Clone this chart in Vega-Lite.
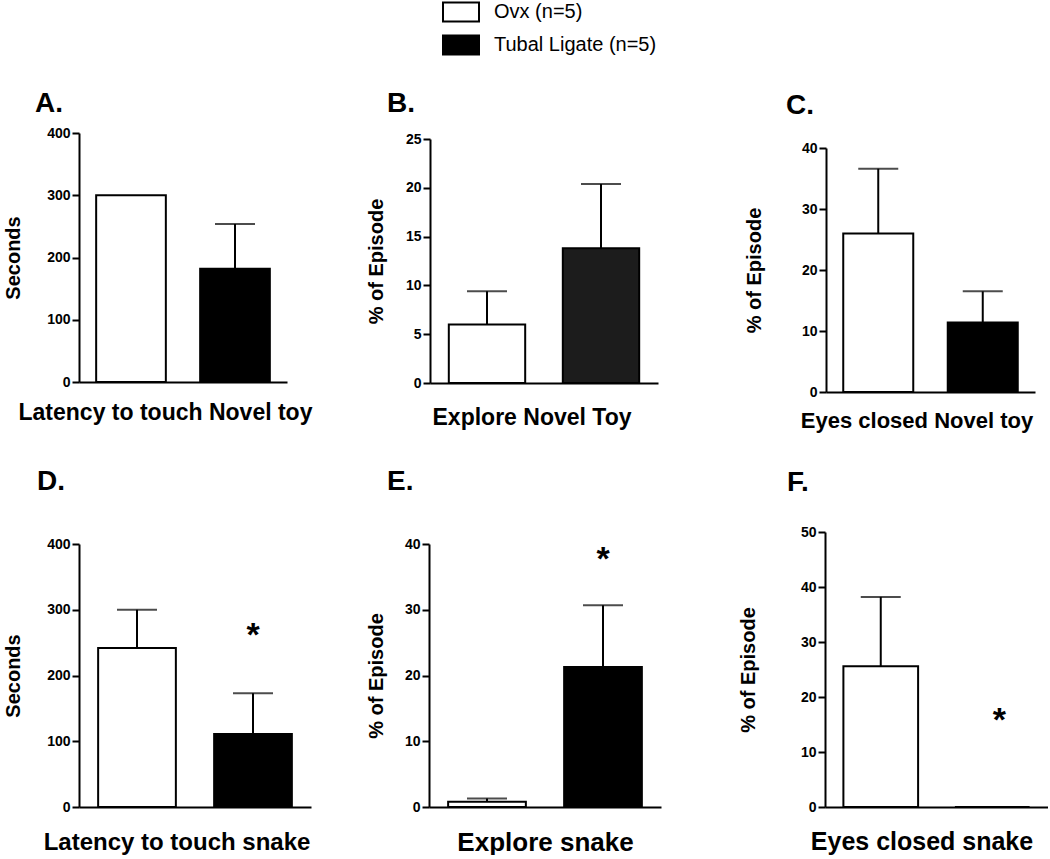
{
  "$schema": "https://vega.github.io/schema/vega-lite/v6.json",
  "padding": {"left": 3, "top": 2, "right": 0, "bottom": 0},
  "datasets": {
    "bars": [
      {"panel": "A", "group": "Ovx (n=5)", "mean": 300, "upper": null, "star": null},
      {"panel": "A", "group": "Tubal Ligate (n=5)", "mean": 182, "upper": 254, "star": null},
      {"panel": "B", "group": "Ovx (n=5)", "mean": 6.0, "upper": 9.4, "star": null},
      {"panel": "B", "group": "Tubal Ligate (n=5)", "mean": 13.8, "upper": 20.4, "star": null},
      {"panel": "C", "group": "Ovx (n=5)", "mean": 26.0, "upper": 36.6, "star": null},
      {"panel": "C", "group": "Tubal Ligate (n=5)", "mean": 11.4, "upper": 16.5, "star": null},
      {"panel": "D", "group": "Ovx (n=5)", "mean": 242, "upper": 300, "star": null},
      {"panel": "D", "group": "Tubal Ligate (n=5)", "mean": 111, "upper": 173, "star": 274},
      {"panel": "E", "group": "Ovx (n=5)", "mean": 0.8, "upper": 1.3, "star": null},
      {"panel": "E", "group": "Tubal Ligate (n=5)", "mean": 21.3, "upper": 30.7, "star": 38.9},
      {"panel": "F", "group": "Ovx (n=5)", "mean": 25.6, "upper": 38.2, "star": null},
      {"panel": "F", "group": "Tubal Ligate (n=5)", "mean": 0, "upper": null, "star": 17.3}
    ]
  },
  "vconcat": [
    {
      "hconcat": [
        {
          "hconcat": [
            {
              "width": 208, "height": 249,
              "title": {"text": "A.", "anchor": "start", "frame": "group", "dx": -44, "dy": 2, "offset": -12, "baseline": "alphabetic", "fontSize": 28, "fontWeight": "bold", "font": "Liberation Sans", "color": "black"},
              "data": {"name": "bars"},
              "transform": [{"filter": "datum.panel === 'A'"}],
              "encoding": {
                "x": {"field": "group", "type": "nominal", "scale": {"domain": ["Ovx (n=5)", "Tubal Ligate (n=5)"], "paddingInner": 0.33, "paddingOuter": 0.165},
                  "axis": {"title": "Latency to touch Novel toy", "titleX": 86, "titlePadding": 19, "titleFontSize": 23}}
              },
              "layer": [
                {"mark": {"type": "bar", "stroke": "black", "strokeWidth": 2},
                 "encoding": {
                   "y": {"field": "mean", "type": "quantitative", "scale": {"domain": [0, 400], "nice": false}, "axis": {"values": [0, 100, 200, 300, 400], "title": "Seconds", "titlePadding": 21}},
                   "fill": {"field": "group", "type": "nominal", "scale": {"domain": ["Ovx (n=5)", "Tubal Ligate (n=5)"], "range": ["white", "black"]},
                     "legend": {"orient": "none", "legendX": 372, "legendY": -131, "title": null, "symbolType": "M-2,-1.06H2V1.06H-2Z", "symbolSize": 324, "symbolStrokeColor": "black", "symbolStrokeWidth": 2, "symbolOpacity": 1, "labelFontSize": 20, "labelFont": "Liberation Sans", "labelColor": "black", "labelLimit": 0, "rowPadding": 5, "labelOffset": 23}}
                 }},
                {"mark": {"type": "rule", "strokeWidth": 2, "color": "black"},
                 "encoding": {"y": {"field": "mean", "type": "quantitative", "axis": {"values": [0, 100, 200, 300, 400], "title": "Seconds", "titlePadding": 21}}, "y2": {"field": "upper"}}},
                {"mark": {"type": "tick", "thickness": 2, "size": 40, "color": "black", "orient": "horizontal"},
                 "encoding": {"y": {"field": "upper", "type": "quantitative", "axis": {"values": [0, 100, 200, 300, 400], "title": "Seconds", "titlePadding": 21}}}}
              ]
            },
            {
              "width": 228, "height": 250,
              "title": {"text": "B.", "anchor": "start", "frame": "group", "dx": -43, "dy": -4, "offset": -12, "baseline": "alphabetic", "fontSize": 28, "fontWeight": "bold", "font": "Liberation Sans", "color": "black"},
              "data": {"name": "bars"},
              "transform": [{"filter": "datum.panel === 'B'"}],
              "encoding": {
                "x": {"field": "group", "type": "nominal", "scale": {"domain": ["Ovx (n=5)", "Tubal Ligate (n=5)"], "paddingInner": 0.33, "paddingOuter": 0.165},
                  "axis": {"title": "Explore Novel Toy", "titleX": 101.5, "titlePadding": 23, "titleFontSize": 23}}
              },
              "layer": [
                {"mark": {"type": "bar", "stroke": "black", "strokeWidth": 2},
                 "encoding": {
                   "y": {"field": "mean", "type": "quantitative", "scale": {"domain": [0, 25], "nice": false, "range": [250, 6]}, "axis": {"values": [0, 5, 10, 15, 20, 25], "title": "% of Episode", "titlePadding": 9}},
                   "fill": {"condition": {"test": "datum.group === 'Tubal Ligate (n=5)'", "value": "#1c1c1c"}, "field": "group", "type": "nominal", "scale": {"domain": ["Ovx (n=5)", "Tubal Ligate (n=5)"], "range": ["white", "black"]},
                     "legend": {"orient": "none", "legendX": 372, "legendY": -131, "title": null, "symbolType": "M-2,-1.06H2V1.06H-2Z", "symbolSize": 324, "symbolStrokeColor": "black", "symbolStrokeWidth": 2, "symbolOpacity": 1, "labelFontSize": 20, "labelFont": "Liberation Sans", "labelColor": "black", "labelLimit": 0, "rowPadding": 5, "labelOffset": 23}}
                 }},
                {"mark": {"type": "rule", "strokeWidth": 2, "color": "black"},
                 "encoding": {"y": {"field": "mean", "type": "quantitative", "axis": {"values": [0, 5, 10, 15, 20, 25], "title": "% of Episode", "titlePadding": 9}}, "y2": {"field": "upper"}}},
                {"mark": {"type": "tick", "thickness": 2, "size": 40, "color": "black", "orient": "horizontal"},
                 "encoding": {"y": {"field": "upper", "type": "quantitative", "axis": {"values": [0, 5, 10, 15, 20, 25], "title": "% of Episode", "titlePadding": 9}}}}
              ]
            }
          ],
          "spacing": 54,
          "align": "none"
        },
        {
          "width": 209, "height": 259,
          "title": {"text": "C.", "anchor": "start", "frame": "group", "dx": -40, "dy": -3, "offset": -12, "baseline": "alphabetic", "fontSize": 28, "fontWeight": "bold", "font": "Liberation Sans", "color": "black"},
          "data": {"name": "bars"},
          "transform": [{"filter": "datum.panel === 'C'"}],
          "encoding": {
            "x": {"field": "group", "type": "nominal", "scale": {"domain": ["Ovx (n=5)", "Tubal Ligate (n=5)"], "paddingInner": 0.33, "paddingOuter": 0.165},
              "axis": {"title": "Eyes closed Novel toy", "titleX": 90.5, "titlePadding": 18, "titleFontSize": 22}}
          },
          "layer": [
            {"mark": {"type": "bar", "stroke": "black", "strokeWidth": 2},
             "encoding": {
               "y": {"field": "mean", "type": "quantitative", "scale": {"domain": [0, 40], "nice": false, "range": [259, 15]}, "axis": {"values": [0, 10, 20, 30, 40], "title": "% of Episode", "titlePadding": 27}},
               "fill": {"field": "group", "type": "nominal", "scale": {"domain": ["Ovx (n=5)", "Tubal Ligate (n=5)"], "range": ["white", "black"]},
                 "legend": {"orient": "none", "legendX": 372, "legendY": -131, "title": null, "symbolType": "M-2,-1.06H2V1.06H-2Z", "symbolSize": 324, "symbolStrokeColor": "black", "symbolStrokeWidth": 2, "symbolOpacity": 1, "labelFontSize": 20, "labelFont": "Liberation Sans", "labelColor": "black", "labelLimit": 0, "rowPadding": 5, "labelOffset": 23}}
             }},
            {"mark": {"type": "rule", "strokeWidth": 2, "color": "black"},
             "encoding": {"y": {"field": "mean", "type": "quantitative", "axis": {"values": [0, 10, 20, 30, 40], "title": "% of Episode", "titlePadding": 27}}, "y2": {"field": "upper"}}},
            {"mark": {"type": "tick", "thickness": 2, "size": 40, "color": "black", "orient": "horizontal"},
             "encoding": {"y": {"field": "upper", "type": "quantitative", "axis": {"values": [0, 10, 20, 30, 40], "title": "% of Episode", "titlePadding": 27}}}}
          ]
        }
      ],
      "spacing": 86,
      "align": "none"
    },
    {
      "hconcat": [
        {
          "hconcat": [
            {
              "width": 232, "height": 275,
              "title": {"text": "D.", "anchor": "start", "frame": "group", "dx": -42, "dy": -3, "offset": 11, "baseline": "alphabetic", "fontSize": 28, "fontWeight": "bold", "font": "Liberation Sans", "color": "black"},
              "data": {"name": "bars"},
              "transform": [{"filter": "datum.panel === 'D'"}],
              "encoding": {
                "x": {"field": "group", "type": "nominal", "scale": {"domain": ["Ovx (n=5)", "Tubal Ligate (n=5)"], "paddingInner": 0.33, "paddingOuter": 0.165},
                  "axis": {"title": "Latency to touch snake", "titleX": 97.5, "titlePadding": 23, "titleFontSize": 24}}
              },
              "layer": [
                {"mark": {"type": "bar", "stroke": "black", "strokeWidth": 2},
                 "encoding": {
                   "y": {"field": "mean", "type": "quantitative", "scale": {"domain": [0, 400], "nice": false, "range": [275, 12]}, "axis": {"values": [0, 100, 200, 300, 400], "title": "Seconds", "titlePadding": 21}},
                   "fill": {"field": "group", "type": "nominal", "scale": {"domain": ["Ovx (n=5)", "Tubal Ligate (n=5)"], "range": ["white", "black"]},
                     "legend": {"orient": "none", "legendX": 372, "legendY": -131, "title": null, "symbolType": "M-2,-1.06H2V1.06H-2Z", "symbolSize": 324, "symbolStrokeColor": "black", "symbolStrokeWidth": 2, "symbolOpacity": 1, "labelFontSize": 20, "labelFont": "Liberation Sans", "labelColor": "black", "labelLimit": 0, "rowPadding": 5, "labelOffset": 23}}
                 }},
                {"mark": {"type": "rule", "strokeWidth": 2, "color": "black"},
                 "encoding": {"y": {"field": "mean", "type": "quantitative", "axis": {"values": [0, 100, 200, 300, 400], "title": "Seconds", "titlePadding": 21}}, "y2": {"field": "upper"}}},
                {"mark": {"type": "tick", "thickness": 2, "size": 40, "color": "black", "orient": "horizontal"},
                 "encoding": {"y": {"field": "upper", "type": "quantitative", "axis": {"values": [0, 100, 200, 300, 400], "title": "Seconds", "titlePadding": 21}}}},
                {"transform": [{"filter": "datum.star != null"}],
                 "mark": {"type": "text", "text": "*", "fontSize": 34, "fontWeight": "bold", "font": "Liberation Sans", "color": "black", "baseline": "middle", "dy": 9},
                 "encoding": {"y": {"field": "star", "type": "quantitative", "axis": {"values": [0, 100, 200, 300, 400], "title": "Seconds", "titlePadding": 21}}}}
              ]
            },
            {
              "width": 232, "height": 275,
              "title": {"text": "E.", "anchor": "start", "frame": "group", "dx": -42, "dy": -3, "offset": 11, "baseline": "alphabetic", "fontSize": 28, "fontWeight": "bold", "font": "Liberation Sans", "color": "black"},
              "data": {"name": "bars"},
              "transform": [{"filter": "datum.panel === 'E'"}],
              "encoding": {
                "x": {"field": "group", "type": "nominal", "scale": {"domain": ["Ovx (n=5)", "Tubal Ligate (n=5)"], "paddingInner": 0.33, "paddingOuter": 0.165},
                  "axis": {"title": "Explore snake", "titleX": 116, "titlePadding": 22, "titleFontSize": 26}}
              },
              "layer": [
                {"mark": {"type": "bar", "stroke": "black", "strokeWidth": 2},
                 "encoding": {
                   "y": {"field": "mean", "type": "quantitative", "scale": {"domain": [0, 40], "nice": false, "range": [275, 12]}, "axis": {"values": [0, 10, 20, 30, 40], "title": "% of Episode", "titlePadding": 8}},
                   "fill": {"field": "group", "type": "nominal", "scale": {"domain": ["Ovx (n=5)", "Tubal Ligate (n=5)"], "range": ["white", "black"]},
                     "legend": {"orient": "none", "legendX": 372, "legendY": -131, "title": null, "symbolType": "M-2,-1.06H2V1.06H-2Z", "symbolSize": 324, "symbolStrokeColor": "black", "symbolStrokeWidth": 2, "symbolOpacity": 1, "labelFontSize": 20, "labelFont": "Liberation Sans", "labelColor": "black", "labelLimit": 0, "rowPadding": 5, "labelOffset": 23}}
                 }},
                {"mark": {"type": "rule", "strokeWidth": 2, "color": "black"},
                 "encoding": {"y": {"field": "mean", "type": "quantitative", "axis": {"values": [0, 10, 20, 30, 40], "title": "% of Episode", "titlePadding": 8}}, "y2": {"field": "upper"}}},
                {"mark": {"type": "tick", "thickness": 2, "size": 40, "color": "black", "orient": "horizontal"},
                 "encoding": {"y": {"field": "upper", "type": "quantitative", "axis": {"values": [0, 10, 20, 30, 40], "title": "% of Episode", "titlePadding": 8}}}},
                {"transform": [{"filter": "datum.star != null"}],
                 "mark": {"type": "text", "text": "*", "fontSize": 34, "fontWeight": "bold", "font": "Liberation Sans", "color": "black", "baseline": "middle", "dy": 9},
                 "encoding": {"y": {"field": "star", "type": "quantitative", "axis": {"values": [0, 10, 20, 30, 40], "title": "% of Episode", "titlePadding": 8}}}}
              ]
            }
          ],
          "spacing": 55,
          "align": "none"
        },
        {
          "width": 223, "height": 275,
          "title": {"text": "F.", "anchor": "start", "frame": "group", "dx": -38, "dy": -3, "offset": 3, "baseline": "alphabetic", "fontSize": 28, "fontWeight": "bold", "font": "Liberation Sans", "color": "black"},
          "data": {"name": "bars"},
          "transform": [{"filter": "datum.panel === 'F'"}],
          "encoding": {
            "x": {"field": "group", "type": "nominal", "scale": {"domain": ["Ovx (n=5)", "Tubal Ligate (n=5)"], "paddingInner": 0.33, "paddingOuter": 0.165},
              "axis": {"title": "Eyes closed snake", "titleX": 96.5, "titlePadding": 22, "titleFontSize": 25}}
          },
          "layer": [
            {"mark": {"type": "bar", "stroke": "black", "strokeWidth": 2},
             "encoding": {
               "y": {"field": "mean", "type": "quantitative", "scale": {"domain": [0, 50], "nice": false}, "axis": {"values": [0, 10, 20, 30, 40, 50], "title": "% of Episode", "titlePadding": 32}},
               "fill": {"field": "group", "type": "nominal", "scale": {"domain": ["Ovx (n=5)", "Tubal Ligate (n=5)"], "range": ["white", "black"]},
                 "legend": {"orient": "none", "legendX": 372, "legendY": -131, "title": null, "symbolType": "M-2,-1.06H2V1.06H-2Z", "symbolSize": 324, "symbolStrokeColor": "black", "symbolStrokeWidth": 2, "symbolOpacity": 1, "labelFontSize": 20, "labelFont": "Liberation Sans", "labelColor": "black", "labelLimit": 0, "rowPadding": 5, "labelOffset": 23}}
             }},
            {"mark": {"type": "rule", "strokeWidth": 2, "color": "black"},
             "encoding": {"y": {"field": "mean", "type": "quantitative", "axis": {"values": [0, 10, 20, 30, 40, 50], "title": "% of Episode", "titlePadding": 32}}, "y2": {"field": "upper"}}},
            {"mark": {"type": "tick", "thickness": 2, "size": 40, "color": "black", "orient": "horizontal"},
             "encoding": {"y": {"field": "upper", "type": "quantitative", "axis": {"values": [0, 10, 20, 30, 40, 50], "title": "% of Episode", "titlePadding": 32}}}},
            {"transform": [{"filter": "datum.star != null"}],
             "mark": {"type": "text", "text": "*", "fontSize": 34, "fontWeight": "bold", "font": "Liberation Sans", "color": "black", "baseline": "middle", "dy": 9, "dx": 7},
             "encoding": {"y": {"field": "star", "type": "quantitative", "axis": {"values": [0, 10, 20, 30, 40, 50], "title": "% of Episode", "titlePadding": 32}}}}
          ]
        }
      ],
      "spacing": 77,
      "align": "none"
    }
  ],
  "spacing": 37,
  "config": {
    "font": "Liberation Sans",
    "view": {"stroke": null},
    "axis": {"domainColor": "black", "domainWidth": 2, "tickColor": "black", "tickWidth": 2, "tickSize": 7, "labelFont": "Liberation Sans", "labelFontWeight": "bold", "labelFontSize": 14, "labelColor": "black", "labelPadding": 2, "titleFont": "Liberation Sans", "titleFontWeight": "bold", "titleColor": "black", "grid": false},
    "axisX": {"labels": false, "ticks": false, "minExtent": 0, "maxExtent": 0},
    "axisY": {"minExtent": 35, "maxExtent": 35, "titleFontSize": 20}
  }
}
